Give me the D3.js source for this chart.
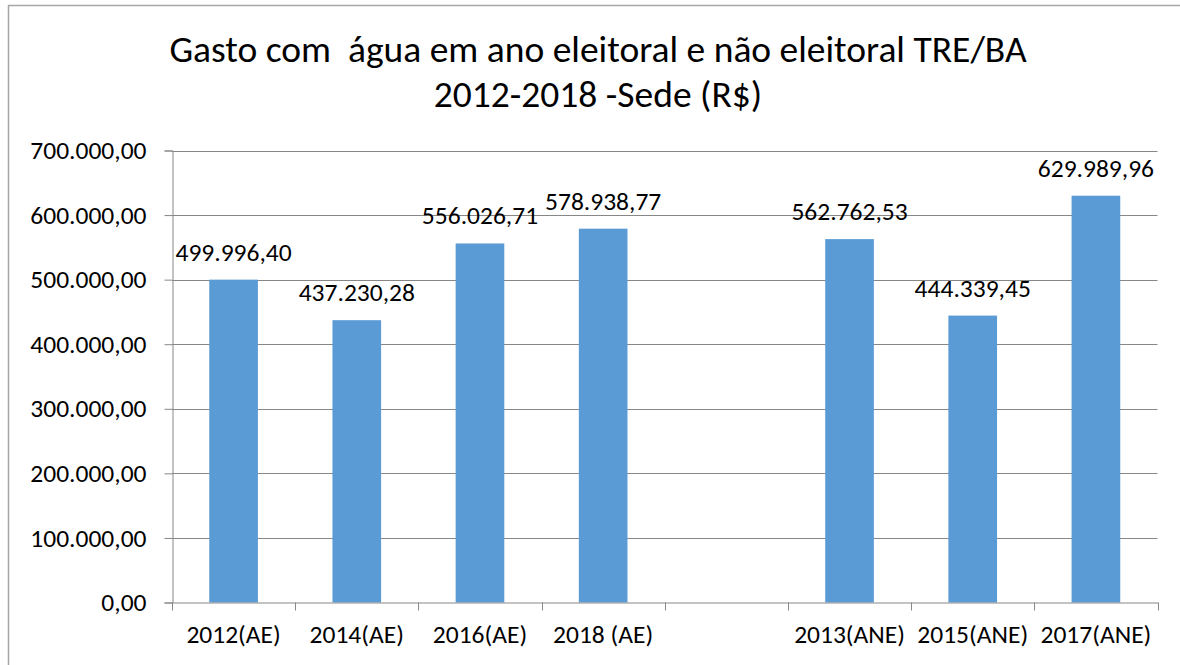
<!DOCTYPE html>
<html>
<head>
<meta charset="utf-8">
<script src="https://cdn.jsdelivr.net/npm/d3@7"></script>
<style>
  html, body { margin: 0; padding: 0; background: #fff; }
  svg { display: block; }
  text { font-family: Carlito, Lato, "Open Sans", sans-serif; fill: #000; }
</style>
</head>
<body>
<svg id="chart" width="1180" height="665"></svg>
<script>
const titleLines = ["Gasto com  água em ano eleitoral e não eleitoral TRE/BA", "2012-2018 -Sede (R$)"];
const categories = ["2012(AE)", "2014(AE)", "2016(AE)", "2018 (AE)", "", "2013(ANE)", "2015(ANE)", "2017(ANE)"];
const values = [499996.40, 437230.28, 556026.71, 578938.77, null, 562762.53, 444339.45, 629989.96];
const yTicks = [0, 100000, 200000, 300000, 400000, 500000, 600000, 700000];

const fmt = v => {
  const [i, d] = v.toFixed(2).split(".");
  return i.replace(/\B(?=(\d{3})+(?!\d))/g, ".") + "," + d;
};

const FONT = "Carlito, Lato, 'Open Sans', sans-serif";
const svg = d3.select("#chart");
const m = { left: 172, right: 1157.5, top: 150.5, bottom: 602.5 };

// outer frame (extends past the right/bottom edge)
svg.append("rect")
  .attr("x", 8.5).attr("y", 5.5).attr("width", 1300).attr("height", 800)
  .attr("fill", "none").attr("stroke", "#a6a6a6").attr("stroke-width", 1.5);

const x = d3.scaleBand().domain(d3.range(categories.length)).range([m.left, m.right]).paddingInner(0).paddingOuter(0);
const y = d3.scaleLinear().domain([0, 700000]).range([m.bottom, m.top]);

// gridlines
svg.append("g").selectAll("line").data(yTicks.filter(t => t > 0)).join("line")
  .attr("x1", m.left).attr("x2", m.right)
  .attr("y1", d => Math.round(y(d)) + 0.5).attr("y2", d => Math.round(y(d)) + 0.5)
  .attr("stroke", "#878787").attr("stroke-width", 1);

// y axis
const yAxis = svg.append("g").attr("transform", `translate(${m.left + 0.5},0)`)
  .call(d3.axisLeft(y).tickValues(yTicks).tickSize(8).tickPadding(18).tickFormat(fmt));
yAxis.select(".domain").attr("stroke", "#878787");
yAxis.selectAll(".tick line").attr("stroke", "#878787");
yAxis.selectAll(".tick text").attr("font-size", 25.5).attr("font-family", FONT).attr("fill", "#000");

// bars
const bw = x.bandwidth() * 0.395;
svg.append("g").selectAll("rect").data(values.map((v, i) => ({ v, i })).filter(d => d.v != null)).join("rect")
  .attr("x", d => x(d.i) + x.bandwidth() / 2 - bw / 2)
  .attr("width", bw)
  .attr("y", d => y(d.v))
  .attr("height", d => y(0) - y(d.v))
  .attr("fill", "#5b9bd5");

// x axis
const xAxis = svg.append("g").attr("transform", `translate(0,${m.bottom})`)
  .call(d3.axisBottom(x).tickSize(0).tickFormat(i => categories[i]).tickPadding(22));
xAxis.select(".domain").attr("stroke", "#878787");
xAxis.selectAll(".tick text").attr("font-size", 25.5).attr("font-family", FONT).attr("fill", "#000");
// tick marks at band boundaries
svg.append("g").selectAll("line").data(d3.range(categories.length + 1)).join("line")
  .attr("x1", i => Math.round(m.left + i * x.step()) + 0.5)
  .attr("x2", i => Math.round(m.left + i * x.step()) + 0.5)
  .attr("y1", m.bottom).attr("y2", m.bottom + 8)
  .attr("stroke", "#878787");

// data labels
svg.append("g").selectAll("text").data(values.map((v, i) => ({ v, i })).filter(d => d.v != null)).join("text")
  .attr("x", d => x(d.i) + x.bandwidth() / 2)
  .attr("y", d => y(d.v) - 19)
  .attr("text-anchor", "middle")
  .attr("font-size", 25.5)
  .text(d => fmt(d.v));

// title
svg.append("g").selectAll("text").data(titleLines).join("text")
  .attr("x", 598).attr("y", (d, i) => 62 + i * 45)
  .attr("text-anchor", "middle")
  .attr("font-size", 37.5)
  .style("white-space", "pre")
  .attr("xml:space", "preserve")
  .text(d => d);
</script>
</body>
</html>
